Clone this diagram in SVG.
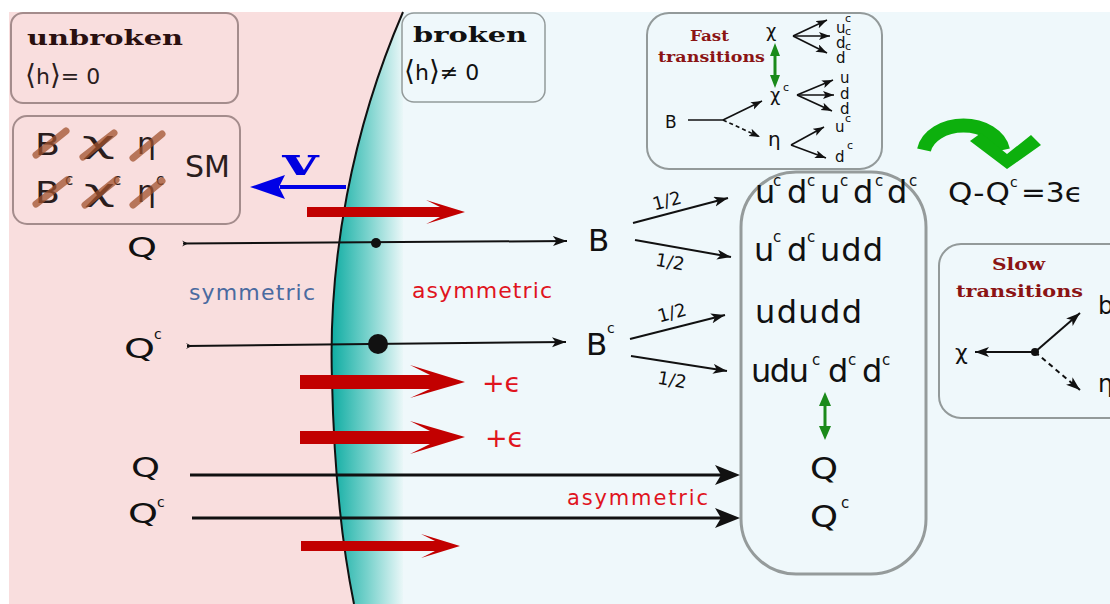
<svg xmlns="http://www.w3.org/2000/svg" width="1110" height="604" viewBox="0 0 1110 604">
<style>
.s{font-family:"DejaVu Sans","Liberation Sans",sans-serif;fill:#111}
.br{font-family:"DejaVu Serif","Liberation Serif",serif;font-weight:bold}
.ln{stroke:#111;fill:none;stroke-width:2}
.ln1{stroke:#111;fill:none;stroke-width:1.6}
.box{fill:#eff8fb;stroke:#939a9a;stroke-width:2}
.pbox{fill:#f9dede;stroke:#a48c8c;stroke-width:2}
.red{fill:#c20000}
.strike{stroke:#a0522d;stroke-opacity:0.75;stroke-width:7;stroke-linecap:round}
.ang{font-size:28px}
</style>
<defs>
<linearGradient id="wall" gradientUnits="userSpaceOnUse" x1="332" y1="0" x2="403" y2="0">
<stop offset="0" stop-color="#10ada3"/>
<stop offset="0.5" stop-color="#78d2cc"/>
<stop offset="1" stop-color="#eaf7f8"/>
</linearGradient>
<marker id="am" markerUnits="userSpaceOnUse" markerWidth="16" markerHeight="12" refX="14" refY="5" orient="auto">
<path d="M0,0 L14,5 L0,10 L3.5,5 Z" fill="#111"/>
</marker>
<marker id="as" markerUnits="userSpaceOnUse" markerWidth="13" markerHeight="10" refX="11" refY="4" orient="auto">
<path d="M0,0 L11,4 L0,8 L2.5,4 Z" fill="#111"/>
</marker>
</defs>

<!-- background -->
<rect x="9" y="12" width="1101" height="592" fill="#f9dede"/>
<path d="M403,12 C352,130 328,260 332,380 C334,470 342,545 354,604 L1110,604 L1110,12 Z" fill="#eff8fb"/>
<path d="M403,12 C352,130 328,260 332,380 C334,470 342,545 354,604 L403,604 L403,12 Z" fill="url(#wall)"/>
<path d="M403,12 C352,130 328,260 332,380 C334,470 342,545 354,604" fill="none" stroke="#111" stroke-width="2"/>

<!-- unbroken box -->
<g id="unbroken">
<rect class="pbox" x="11" y="13" width="227" height="90" rx="12"/>
<text class="br" x="27" y="45" font-size="21" fill="#2a1010" textLength="156" lengthAdjust="spacingAndGlyphs">unbroken</text>
<text class="s" x="25" y="84" font-size="22" style="fill:#2b1d1d"><tspan class="ang">⟨</tspan>h<tspan class="ang">⟩</tspan>= 0</text>
</g>

<!-- SM box -->
<g id="sm">
<rect class="pbox" x="13" y="116" width="227" height="108" rx="14"/>
<g class="s" style="fill:#2b1d1d">
<text x="35" y="155" font-size="30" textLength="25" lengthAdjust="spacingAndGlyphs">B</text>
<text x="82" y="153" font-size="30" textLength="33" lengthAdjust="spacingAndGlyphs">χ</text>
<text x="137" y="154" font-size="30">η</text>
<text x="35" y="203" font-size="30" textLength="25" lengthAdjust="spacingAndGlyphs">B</text>
<text x="84" y="201" font-size="30" textLength="31" lengthAdjust="spacingAndGlyphs">χ</text>
<text x="137" y="202" font-size="30">η</text>
<text x="65" y="185" font-size="15">c</text>
<text x="113" y="185" font-size="15">c</text>
<text x="156" y="185" font-size="15">c</text>
<text x="185" y="177" font-size="30">SM</text>
</g>
<line class="strike" x1="36" y1="155" x2="66" y2="131"/>
<line class="strike" x1="83" y1="157" x2="114" y2="133"/>
<line class="strike" x1="133" y1="158" x2="162" y2="134"/>
<line class="strike" x1="36" y1="204" x2="67" y2="180"/>
<line class="strike" x1="85" y1="205" x2="116" y2="180"/>
<line class="strike" x1="133" y1="205" x2="162" y2="181"/>
</g>

<!-- broken box -->
<g id="broken">
<rect class="box" x="402" y="13" width="143" height="89" rx="12" style="stroke-width:1.5"/>
<text class="br" x="413" y="42" font-size="21" fill="#111" textLength="114" lengthAdjust="spacingAndGlyphs">broken</text>
<text class="s" x="404" y="80" font-size="22"><tspan class="ang">⟨</tspan>h<tspan class="ang">⟩</tspan>≠ 0</text>
</g>

<!-- wall velocity -->
<g id="velocity">
<text class="br" x="283" y="175" font-size="40" fill="#0000e0" textLength="35" lengthAdjust="spacingAndGlyphs">v</text>
<line x1="280" y1="187" x2="346" y2="187" stroke="#0000e6" stroke-width="4"/>
<path d="M250,187 L285,175 L279,187 L285,199 Z" fill="#0000e6"/>
</g>

<!-- red flux arrows -->
<g id="flux">
<path class="red" d="M307,207 L440,207 L426,200 L465,212 L426,224 L440,217 L307,217 Z"/>
<path class="red" d="M300,375 L430,375 L410,365 L465,382 L410,398 L430,389 L300,389 Z"/>
<path class="red" d="M300,431 L430,431 L410,421 L465,437 L410,454 L430,444 L300,444 Z"/>
<path class="red" d="M301,541 L435,541 L421,534 L460,546 L421,558 L435,551 L301,551 Z"/>
<text class="s" x="482" y="392" font-size="27" style="fill:#e0141e">+ϵ</text>
<text class="s" x="485" y="447" font-size="27" style="fill:#e0141e">+ϵ</text>
</g>

<!-- labels -->
<text class="s" x="189" y="300" font-size="22" style="fill:#4a6aa0" textLength="126">symmetric</text>
<text class="s" x="412" y="298" font-size="22" style="fill:#e0141e" textLength="140">asymmetric</text>
<text class="s" x="567" y="505" font-size="21" style="fill:#e0141e" textLength="141">asymmetric</text>

<!-- left particles -->
<g id="Q-left">
<text class="s" x="127" y="257" font-size="26" textLength="30" lengthAdjust="spacingAndGlyphs">Q</text>
</g>
<g id="Qc-left">
<text class="s" x="124" y="358" font-size="26" textLength="31" lengthAdjust="spacingAndGlyphs">Q</text>
<text class="s" x="154" y="339" font-size="14">c</text>
</g>
<g id="Q-bottom">
<text class="s" x="131" y="477" font-size="26" textLength="29" lengthAdjust="spacingAndGlyphs">Q</text>
</g>
<g id="Qc-bottom">
<text class="s" x="128" y="523" font-size="26" textLength="30" lengthAdjust="spacingAndGlyphs">Q</text>
<text class="s" x="157" y="507" font-size="14">c</text>
</g>

<!-- B nodes -->
<g id="B">
<text class="s" x="588" y="251" font-size="31">B</text>
</g>
<g id="Bc">
<text class="s" x="586" y="355" font-size="31">B</text>
<text class="s" x="607" y="333" font-size="14">c</text>
</g>

<!-- products box -->
<g id="products">
<rect x="741" y="172" width="185" height="402" rx="55" fill="none" stroke="#959b9b" stroke-width="3"/>
<g class="s" font-size="32">
<text x="755" y="203">u</text><text x="787" y="203">d</text><text x="820" y="203">u</text><text x="853" y="203">d</text><text x="887" y="203">d</text>
<text x="754" y="261">u</text><text x="787" y="261">d</text><text x="820" y="261" textLength="63">udd</text>
<text x="755" y="323" textLength="107">ududd</text>
<text x="751" y="382" textLength="58">udu</text><text x="828" y="382">d</text><text x="862" y="382">d</text>
</g>
<g class="s" font-size="15">
<text x="773" y="186">c</text><text x="807" y="186">c</text><text x="840" y="186">c</text><text x="875" y="186">c</text><text x="909" y="186">c</text>
<text x="773" y="242">c</text><text x="807" y="242">c</text>
<text x="812" y="365">c</text><text x="848" y="365">c</text><text x="882" y="365">c</text>
</g>
<line x1="825" y1="402" x2="825" y2="430" stroke="#1a8a1a" stroke-width="3"/>
<path d="M825,392 L831,406 L819,406 Z M825,440 L831,426 L819,426 Z" fill="#1a8a1a"/>
<text class="s" x="810" y="479" font-size="31" textLength="28" lengthAdjust="spacingAndGlyphs">Q</text>
<text class="s" x="810" y="527" font-size="31" textLength="28" lengthAdjust="spacingAndGlyphs">Q</text>
<text class="s" x="841" y="508" font-size="15">c</text>
</g>

<!-- fast transitions -->
<g id="fast">
<rect class="box" x="647" y="13" width="235" height="156" rx="22"/>
<text class="br" x="690" y="41" font-size="15" fill="#8b1414" textLength="39" lengthAdjust="spacingAndGlyphs">Fast</text>
<text class="br" x="658" y="62" font-size="15" fill="#8b1414" textLength="107" lengthAdjust="spacingAndGlyphs">transitions</text>
<g class="s">
<text x="766" y="37" font-size="18">χ</text>
<text x="770" y="101" font-size="18">χ</text>
<text x="783" y="91" font-size="11">c</text>
<text x="665" y="128" font-size="17">B</text>
<text x="768" y="146" font-size="20">η</text>
<text x="836" y="33" font-size="15">u</text><text x="845" y="22" font-size="11">c</text>
<text x="836" y="48" font-size="15">d</text><text x="845" y="35" font-size="11">c</text>
<text x="836" y="63" font-size="15">d</text><text x="845" y="50" font-size="11">c</text>
<text x="840" y="83" font-size="15">u</text>
<text x="840" y="99" font-size="15">d</text>
<text x="840" y="114" font-size="15">d</text>
<text x="835" y="132" font-size="15">u</text><text x="845" y="122" font-size="11">c</text>
<text x="835" y="162" font-size="15">d</text><text x="847" y="149" font-size="11">c</text>
</g>
<line x1="775" y1="53" x2="775" y2="78" stroke="#1a8a1a" stroke-width="3"/>
<path d="M775,43 L780,56 L770,56 Z M775,88 L780,75 L770,75 Z" fill="#1a8a1a"/>
</g>

<!-- slow transitions -->
<g id="slow">
<rect class="box" x="939" y="244" width="200" height="174" rx="22"/>
<text class="br" x="992" y="270" font-size="17" fill="#8b1414" textLength="53" lengthAdjust="spacingAndGlyphs">Slow</text>
<text class="br" x="956" y="297" font-size="17" fill="#8b1414" textLength="127" lengthAdjust="spacingAndGlyphs">transitions</text>
<text class="s" x="955" y="360" font-size="22">χ</text>
<text class="s" x="1098" y="314" font-size="24">b</text>
<text class="s" x="1098" y="392" font-size="24">η</text>
<circle cx="1035" cy="352" r="4" fill="#111"/>
</g>

<!-- Q - Qc = 3e -->
<g id="balance">
<text class="s" x="948" y="202" font-size="27" textLength="62" lengthAdjust="spacingAndGlyphs">Q-Q</text>
<text class="s" x="1010" y="187" font-size="14">c</text>
<text class="s" x="1021" y="202" font-size="27" textLength="62" lengthAdjust="spacingAndGlyphs">=3ϵ</text>
<path d="M924,150 A40 29 0 0 1 1003,150" fill="none" stroke="#0db00d" stroke-width="14"/>
<path d="M970,141 L981,133 L1007,154 L1031,135 L1041,145 L1007,169 Z" fill="#0db00d"/>
</g>

<!-- connectors -->
<g id="connectors">
<path class="ln" d="M183,243.5 L567,241" marker-end="url(#am)"/>
<path d="M182,240.5 L188,243.5 L182,246.5 L184.5,243.5 Z" fill="#111"/>
<circle cx="376" cy="243" r="5" fill="#111"/>
<path class="ln" d="M187,346 L566,342" marker-end="url(#am)"/>
<path d="M186,343 L192,346 L186,349 L188.5,346 Z" fill="#111"/>
<circle cx="378" cy="344" r="10" fill="#111"/>

<line x1="190" y1="475" x2="722" y2="475" stroke="#111" stroke-width="3"/>
<path d="M740,475 L715,465 L721,475 L715,485 Z" fill="#111"/>
<line x1="192" y1="518" x2="722" y2="518" stroke="#111" stroke-width="3"/>
<path d="M740,518 L715,508 L721,518 L715,528 Z" fill="#111"/>

<line class="ln" x1="633" y1="223" x2="728" y2="198" marker-end="url(#am)"/>
<line class="ln" x1="635" y1="240" x2="731" y2="257" marker-end="url(#am)"/>
<line class="ln" x1="630" y1="339" x2="725" y2="315" marker-end="url(#am)"/>
<line class="ln" x1="631" y1="356" x2="727" y2="371" marker-end="url(#am)"/>
<g class="s" font-size="18" text-anchor="middle">
<text x="667" y="207" transform="rotate(-15 667 201)">1/2</text>
<text x="670" y="268" transform="rotate(10 670 262)">1/2</text>
<text x="672" y="319" transform="rotate(-15 672 313)">1/2</text>
<text x="672" y="386" transform="rotate(10 672 380)">1/2</text>
</g>

<line class="ln1" x1="793" y1="36" x2="827" y2="20" marker-end="url(#as)"/>
<line class="ln1" x1="793" y1="36" x2="830" y2="36" marker-end="url(#as)"/>
<line class="ln1" x1="793" y1="36" x2="827" y2="53" marker-end="url(#as)"/>
<line class="ln1" x1="797" y1="95" x2="833" y2="80" marker-end="url(#as)"/>
<line class="ln1" x1="797" y1="95" x2="834" y2="95" marker-end="url(#as)"/>
<line class="ln1" x1="797" y1="95" x2="832" y2="111" marker-end="url(#as)"/>
<line class="ln1" x1="688" y1="120" x2="723" y2="120"/>
<line class="ln1" x1="723" y1="120" x2="762" y2="101" marker-end="url(#as)"/>
<line class="ln1" x1="723" y1="120" x2="760" y2="137" stroke-dasharray="4,3" marker-end="url(#as)"/>
<line class="ln1" x1="791" y1="145" x2="824" y2="127" marker-end="url(#as)"/>
<line class="ln1" x1="791" y1="145" x2="826" y2="158" marker-end="url(#as)"/>

<line class="ln" x1="1035" y1="352" x2="975" y2="352" marker-end="url(#am)"/>
<line class="ln" x1="1035" y1="352" x2="1080" y2="313" marker-end="url(#am)"/>
<line class="ln" x1="1035" y1="352" x2="1080" y2="390" stroke-dasharray="5,4" marker-end="url(#am)"/>
</g>
</svg>
